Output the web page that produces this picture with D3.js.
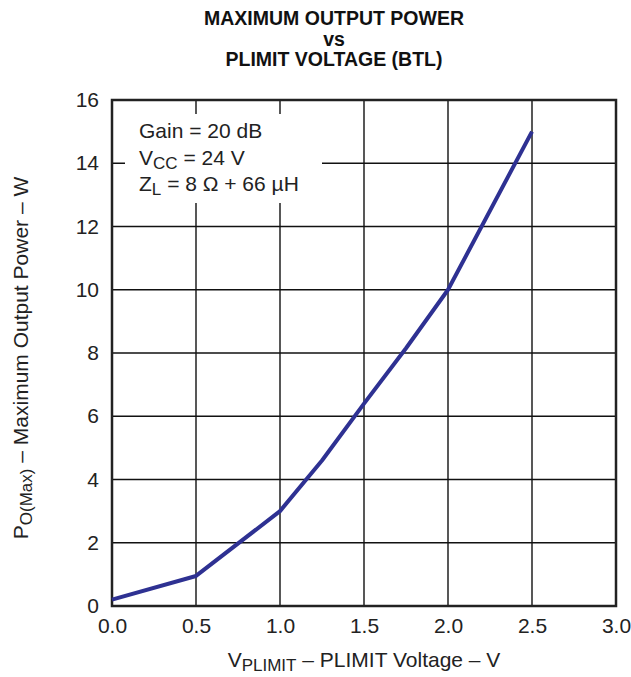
<!DOCTYPE html>
<html>
<head>
<meta charset="utf-8">
<script src="https://cdn.jsdelivr.net/npm/d3@7"></script>
<style>
  body { margin: 0; background: #fff; }
  svg { font-family: "Liberation Sans", Arial, sans-serif; }
</style>
</head>
<body>
<script>
// chart data
const voltage = [0.0, 0.5, 1.0, 1.25, 1.5, 1.75, 2.0, 2.5];
const power = [0.2, 0.95, 3.0, 4.6, 6.4, 8.15, 10.0, 15.0];
const xTicks = [0, 0.5, 1.0, 1.5, 2.0, 2.5, 3.0];
const yTicks = [0, 2, 4, 6, 8, 10, 12, 14, 16];
const titleLines = ["MAXIMUM OUTPUT POWER", "vs", "PLIMIT VOLTAGE (BTL)"];

var width = 631, height = 677;
var margin = {left: 112, right: 15, top: 100, bottom: 71};
var fs = 21;

var svg = d3.select("body").append("svg")
	.attr("width", width)
	.attr("height", height);

var x = d3.scaleLinear()
	.domain([0, 3])
	.range([margin.left, width - margin.right]);

var y = d3.scaleLinear()
	.domain([0, 16])
	.range([height - margin.bottom, margin.top]);

// grid
svg.append("g")
	.selectAll("line")
	.data(xTicks.slice(1, -1))
	.enter()
	.append("line")
	.attr("x1", d => x(d)).attr("x2", d => x(d))
	.attr("y1", y(0)).attr("y2", y(16))
	.attr("stroke", "#111").attr("stroke-width", 1.4);

svg.append("g")
	.selectAll("line")
	.data(yTicks.slice(1, -1))
	.enter()
	.append("line")
	.attr("x1", x(0)).attr("x2", x(3))
	.attr("y1", d => y(d)).attr("y2", d => y(d))
	.attr("stroke", "#111").attr("stroke-width", 1.4);

// white box behind the conditions text
svg.append("rect")
	.attr("x", x(0) + 13)
	.attr("y", y(16) + 14)
	.attr("width", 197)
	.attr("height", 89)
	.attr("fill", "#fff");

// frame
svg.append("rect")
	.attr("x", x(0)).attr("y", y(16))
	.attr("width", x(3) - x(0))
	.attr("height", y(0) - y(16))
	.attr("fill", "none")
	.attr("stroke", "#222")
	.attr("stroke-width", 2.5);

// curve
var line = d3.line()
	.x((d, i) => x(voltage[i]))
	.y(d => y(d));

svg.append("path")
	.datum(power)
	.attr("d", line)
	.attr("fill", "none")
	.attr("stroke", "#2e3192")
	.attr("stroke-width", 4)
	.attr("stroke-linejoin", "round");

// axes labels (ticks)
var xAxis = d3.axisBottom(x)
	.tickValues(xTicks)
	.tickFormat(d3.format(".1f"))
	.tickSize(0)
	.tickPadding(12);

var gx = svg.append("g")
	.attr("transform", "translate(0," + y(0) + ")")
	.call(xAxis);
gx.select(".domain").remove();
gx.selectAll("text")
	.attr("font-family", "Liberation Sans, Arial, sans-serif")
	.attr("font-size", fs)
	.attr("fill", "#222");

var yAxis = d3.axisLeft(y)
	.tickValues(yTicks)
	.tickSize(0)
	.tickPadding(13);

var gy = svg.append("g")
	.attr("transform", "translate(" + x(0) + ",0)")
	.call(yAxis);
gy.select(".domain").remove();
gy.selectAll("text")
	.attr("font-family", "Liberation Sans, Arial, sans-serif")
	.attr("font-size", fs)
	.attr("fill", "#222");

// title
svg.append("g")
	.selectAll("text")
	.data(titleLines)
	.enter()
	.append("text")
	.attr("x", 334)
	.attr("y", (d, i) => 25 + i * 20.5)
	.attr("text-anchor", "middle")
	.attr("font-weight", "bold")
	.attr("font-size", 19.5)
	.attr("fill", "#111")
	.text(d => d);

// conditions text
var notes = svg.append("g")
	.attr("font-size", fs)
	.attr("fill", "#222");

notes.append("text")
	.attr("x", 139).attr("y", 138)
	.text("Gain = 20 dB");

var vcc = notes.append("text").attr("x", 139).attr("y", 165);
vcc.append("tspan").text("V");
vcc.append("tspan").attr("font-size", 17).attr("dy", 4).text("CC");
vcc.append("tspan").attr("dy", -4).text(" = 24 V");

var zl = notes.append("text").attr("x", 139).attr("y", 191);
zl.append("tspan").text("Z");
zl.append("tspan").attr("font-size", 17).attr("dy", 4).text("L");
zl.append("tspan").attr("dy", -4).text(" = 8 \u03A9 + 66 \u00B5H");

// x axis title
var xt = svg.append("text")
	.attr("x", 364)
	.attr("y", 667)
	.attr("text-anchor", "middle")
	.attr("font-size", fs)
	.attr("fill", "#222");
xt.append("tspan").text("V");
xt.append("tspan").attr("font-size", 17).attr("dy", 4).text("PLIMIT");
xt.append("tspan").attr("dy", -4).text(" \u2013 PLIMIT Voltage \u2013 V");

// y axis title
var yt = svg.append("text")
	.attr("transform", "translate(28," + 358 + ") rotate(-90)")
	.attr("text-anchor", "middle")
	.attr("font-size", fs)
	.attr("fill", "#222");
yt.append("tspan").text("P");
yt.append("tspan").attr("font-size", 17).attr("dy", 4).text("O(Max)");
yt.append("tspan").attr("dy", -4).text(" \u2013 Maximum Output Power \u2013 W");
</script>
</body>
</html>
